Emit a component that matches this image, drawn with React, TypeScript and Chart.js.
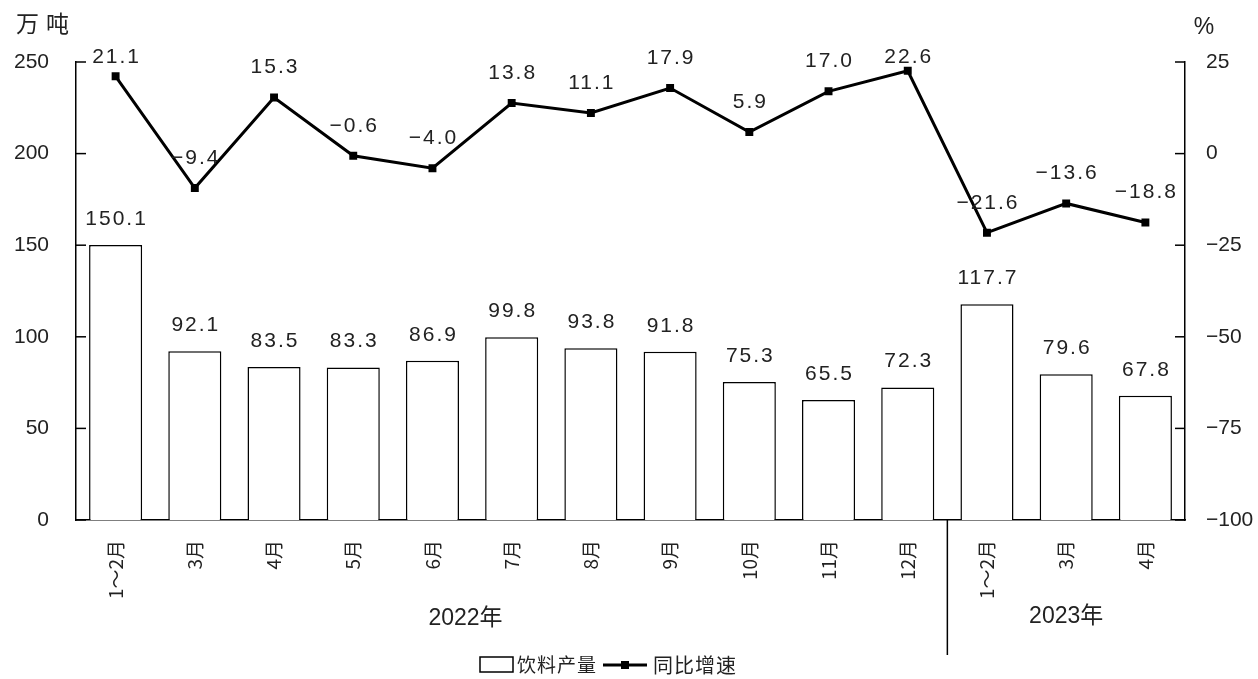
import React, { useEffect, useRef } from "react";
import { Chart, registerables } from "chart.js";

Chart.register(...registerables);

const categories = ["1～2月", "3月", "4月", "5月", "6月", "7月", "8月", "9月", "10月", "11月", "12月", "1～2月", "3月", "4月"];
const production = [150.1, 92.1, 83.5, 83.3, 86.9, 99.8, 93.8, 91.8, 75.3, 65.5, 72.3, 117.7, 79.6, 67.8];
const growth = [21.1, -9.4, 15.3, -0.6, -4.0, 13.8, 11.1, 17.9, 5.9, 17.0, 22.6, -21.6, -13.6, -18.8];
const yearLabels = ["2022年", "2023年"];
const yearCounts = [11, 3];
const seriesNames = ["饮料产量", "同比增速"];
const leftUnit = "万吨";
const rightUnit = "%";

const NUM_FONT = '"Liberation Sans", Arial, "Noto Sans CJK SC", sans-serif';
const CJK_FONT = '"Noto Sans CJK SC", "Liberation Sans", sans-serif';
const TEXT = "#222";

const fmt = (v: number, d: number) => v.toFixed(d).replace("-", "−");

const decorPlugin = {
  id: "decor",
  afterDraw(chart: any) {
    const ctx: CanvasRenderingContext2D = chart.ctx;
    const { left, right, bottom } = chart.chartArea;
    const yL = chart.scales.y;
    const yR = chart.scales.y1;
    const x = chart.scales.x;
    ctx.save();
    ctx.strokeStyle = "#000";
    ctx.lineWidth = 1.5;
    const line = (x1: number, y1: number, x2: number, y2: number) => {
      ctx.beginPath();
      ctx.moveTo(x1, y1);
      ctx.lineTo(x2, y2);
      ctx.stroke();
    };
    // inward tick marks
    yL.ticks.forEach((t: any) => {
      const py = yL.getPixelForValue(t.value);
      line(left, py, left + 10, py);
    });
    yR.ticks.forEach((t: any) => {
      const py = yR.getPixelForValue(t.value);
      line(right, py, right - 10, py);
    });

    // year separator and group labels
    const groupFrac = [0.447, 0.5];
    let start = 0;
    ctx.fillStyle = TEXT;
    ctx.font = `23px ${NUM_FONT}`;
    ctx.textAlign = "center";
    ctx.textBaseline = "middle";
    yearLabels.forEach((lab, gi) => {
      const end = start + yearCounts[gi] - 1;
      const gLeft = start === 0 ? left : (x.getPixelForValue(start - 1) + x.getPixelForValue(start)) / 2;
      const gRight = end === categories.length - 1 ? right : (x.getPixelForValue(end) + x.getPixelForValue(end + 1)) / 2;
      if (gi > 0) line(gLeft, bottom, gLeft, 655);
      const cx = gLeft + (gRight - gLeft) * groupFrac[gi];
      ctx.fillText(lab, cx, gi === 0 ? 619 : 617);
      start = end + 1;
    });

    // data labels
    ctx.font = `21px ${NUM_FONT}`;
    (ctx as any).letterSpacing = "2px";
    const barMeta = chart.getDatasetMeta(1);
    barMeta.data.forEach((el: any, i: number) => {
      ctx.fillText(fmt(production[i], 1), el.x + 1, el.y - 26);
    });
    const lineMeta = chart.getDatasetMeta(0);
    lineMeta.data.forEach((el: any, i: number) => {
      const ty = Math.max(57, el.y - 30);
      ctx.fillText(fmt(growth[i], 1), el.x + 1, ty);
    });
    (ctx as any).letterSpacing = "0px";

    // unit titles
    ctx.font = `23px ${CJK_FONT}`;
    (ctx as any).letterSpacing = "7px";
    ctx.textAlign = "left";
    ctx.fillText(leftUnit, 16, 23);
    (ctx as any).letterSpacing = "0px";
    ctx.font = `23px ${NUM_FONT}`;
    ctx.textAlign = "center";
    ctx.fillText(rightUnit, 1204, 28);

    // legend
    const ly = 665;
    ctx.lineWidth = 1.5;
    ctx.strokeStyle = "#000";
    ctx.fillStyle = "#fff";
    ctx.fillRect(480, 657, 33, 15);
    ctx.strokeRect(480, 657, 33, 15);
    ctx.fillStyle = TEXT;
    ctx.font = `19px ${CJK_FONT}`;
    (ctx as any).letterSpacing = "1px";
    ctx.textAlign = "left";
    ctx.fillText(seriesNames[0], 517, ly);
    ctx.lineWidth = 3;
    line(603, ly, 647, ly);
    ctx.fillStyle = "#000";
    ctx.fillRect(621, ly - 4, 8, 8);
    ctx.fillStyle = TEXT;
    ctx.font = `20px ${CJK_FONT}`;
    ctx.fillText(seriesNames[1], 653, ly);
    (ctx as any).letterSpacing = "0px";
    ctx.restore();
  },
};

export default function App() {
  const ref = useRef<HTMLCanvasElement | null>(null);
  useEffect(() => {
    if (!ref.current) return;
    const chart = new Chart(ref.current, {
      type: "bar",
      data: {
        labels: categories,
        datasets: [
          {
            type: "line",
            label: seriesNames[1],
            data: growth,
            yAxisID: "y1",
            borderColor: "#000",
            borderWidth: 3,
            backgroundColor: "#000",
            pointStyle: "rect",
            pointRadius: 5.6,
            pointBackgroundColor: "#000",
            pointBorderWidth: 0,
            tension: 0,
            order: 0,
          } as any,
          {
            type: "bar",
            label: seriesNames[0],
            data: production,
            yAxisID: "y",
            backgroundColor: "#fff",
            borderColor: "#000",
            borderWidth: 1.5,
            barPercentage: 0.67,
            categoryPercentage: 1,
            order: 1,
          } as any,
        ],
      },
      options: {
        responsive: false,
        animation: false,
        layout: { padding: { top: 62, left: 0, right: 0, bottom: 0 } },
        plugins: {
          legend: { display: false },
          tooltip: { enabled: false },
          title: { display: false },
        },
        scales: {
          x: {
            offset: true,
            grid: { display: false },
            border: { display: true, color: "#000", width: 1.5 },
            ticks: {
              autoSkip: false,
              minRotation: 90,
              maxRotation: 90,
              padding: 12,
              color: TEXT,
              font: { family: CJK_FONT, size: 19 },
            },
            afterFit: (s: any) => {
              s.height = 159;
            },
          },
          y: {
            position: "left",
            min: 0,
            max: 250,
            grid: { display: false },
            border: { display: true, color: "#000", width: 1.5 },
            ticks: { stepSize: 50, padding: 19, color: TEXT, font: { family: NUM_FONT, size: 21 } },
            afterFit: (s: any) => {
              s.width = 76;
            },
          },
          y1: {
            position: "right",
            min: -100,
            max: 25,
            grid: { display: false },
            border: { display: true, color: "#000", width: 1.5 },
            ticks: {
              stepSize: 25,
              padding: 13,
              color: TEXT,
              font: { family: NUM_FONT, size: 21 },
              callback: (v: any) => fmt(Number(v), 0),
            },
            afterFit: (s: any) => {
              s.width = 73;
            },
          },
        },
      } as any,
      plugins: [decorPlugin],
    });
    return () => chart.destroy();
  }, []);
  return (
    <div style={{ position: "fixed", left: 0, top: 0, width: 1258, height: 679, background: "#fff" }}>
      <canvas ref={ref} width={1258} height={679} style={{ display: "block" }} />
    </div>
  );
}
